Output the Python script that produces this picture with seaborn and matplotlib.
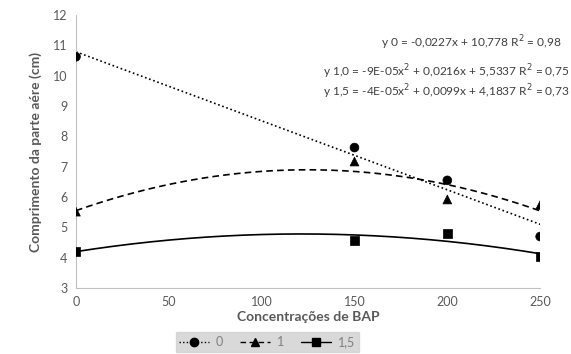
# chart: comprimento da parte aérea vs BAP, with trendlines
import numpy as np
import pandas as pd
import seaborn as sns
import matplotlib.pyplot as plt
from matplotlib.lines import Line2D

# data
bap = [0, 150, 200, 250]
serie_0 = [10.62, 7.63, 6.55, 4.7]
serie_1 = [5.52, 7.17, 5.92, 5.74]
serie_15 = [4.22, 4.58, 4.8, 4.03]
labels = ['0', '1', '1,5']
equations = ['y 0 = -0,0227x + 10,778 R$^2$ = 0,98',
             'y 1,0 = -9E-05x$^2$ + 0,0216x + 5,5337 R$^2$ = 0,75',
             'y 1,5 = -4E-05x$^2$ + 0,0099x + 4,1837 R$^2$ = 0,73']

df = pd.DataFrame({'bap': bap * 3,
                   'comp': serie_0 + serie_1 + serie_15,
                   'serie': [l for l in labels for _ in bap]})

sns.set_style('white')
plt.rcParams['font.family'] = ['Lato', 'DejaVu Sans']
grey = '#595959'

fig = plt.figure(figsize=(5.71, 3.54), dpi=100)
ax = fig.add_axes([0.133, 0.186, 0.813, 0.772])

markers = {'0': 'o', '1': '^', '1,5': 's'}
styles = {'0': (0, (1, 1.6)), '1': (0, (4, 2.5)), '1,5': '-'}
degree = {'0': 1, '1': 2, '1,5': 2}

sns.scatterplot(data=df, x='bap', y='comp', style='serie', markers=markers,
                color='black', s=40, edgecolor='black', legend=False, ax=ax, zorder=3)

xs = np.linspace(0, 250, 200)
handles = []
for lab in labels:
    sub = df[df.serie == lab]
    coef = np.polyfit(sub.bap, sub.comp, degree[lab])
    sns.lineplot(x=xs, y=np.polyval(coef, xs), color='black', linestyle=styles[lab],
                 linewidth=1.2, ax=ax, legend=False)
    handles.append(Line2D([], [], color='black', linestyle=styles[lab], marker=markers[lab],
                          markersize=6, linewidth=1.0))

ax.set_xlim(0, 250)
ax.set_ylim(3, 12)
ax.set_xticks([0, 50, 100, 150, 200, 250])
ax.set_yticks(range(3, 13))
for s in ['top', 'right']:
    ax.spines[s].set_visible(False)
for s in ['left', 'bottom']:
    ax.spines[s].set_color('#bfbfbf')
ax.tick_params(colors=grey, labelsize=9, length=0, pad=6)
ax.set_xlabel('Concentrações de BAP', fontsize=10, fontweight='bold', color=grey, labelpad=2)
ax.set_ylabel('Comprimento da parte aére (cm)', fontsize=10, fontweight='bold', color=grey, labelpad=8)

eq_x = [0.983, 0.997, 0.997]
eq_y = [0.879, 0.797, 0.740]
for i, eq in enumerate(equations):
    fig.text(eq_x[i], eq_y[i], eq, ha='right', va='center', fontsize=8.6, color='#404040')

leg = fig.legend(handles=handles, labels=labels, loc='lower center', ncol=3,
                 bbox_to_anchor=(0.468, -0.012), frameon=True, fontsize=9,
                 handlelength=2.4, handletextpad=0.5, columnspacing=1.4, borderpad=0.3)
leg.get_frame().set_facecolor('#d0d0d0')
leg.get_frame().set_edgecolor('#d0d0d0')
leg.get_frame().set_boxstyle('square', pad=0)
for t in leg.get_texts():
    t.set_color('#7f7f7f')

plt.savefig('out.png', dpi=100)
plt.close()
